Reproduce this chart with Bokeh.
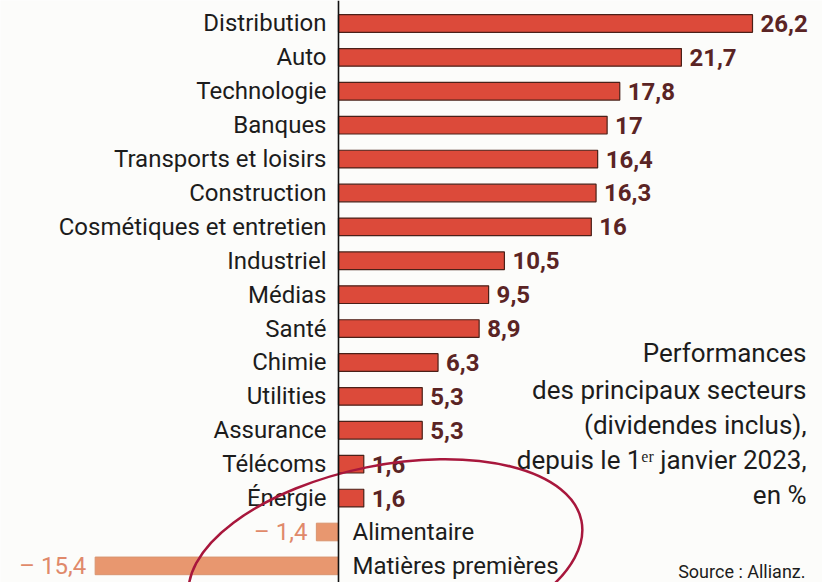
from bokeh.plotting import figure
from bokeh.models import ColumnDataSource, Range1d, Label, Span
from bokeh.core.properties import value
from bokeh.embed import file_html
from bokeh.resources import INLINE

categories = ["Distribution", "Auto", "Technologie", "Banques", "Transports et loisirs",
              "Construction", "Cosmétiques et entretien", "Industriel", "Médias", "Santé",
              "Chimie", "Utilities", "Assurance", "Télécoms", "Énergie",
              "Alimentaire", "Matières premières"]
values = [26.2, 21.7, 17.8, 17, 16.4, 16.3, 16, 10.5, 9.5, 8.9, 6.3, 5.3, 5.3, 1.6, 1.6, -1.4, -15.4]
value_labels = ["26,2", "21,7", "17,8", "17", "16,4", "16,3", "16", "10,5", "9,5", "8,9",
                "6,3", "5,3", "5,3", "1,6", "1,6", "– 1,4", "– 15,4"]
title_lines = ["Performances", "des principaux secteurs", "(dividendes inclus),",
               "depuis le 1ᵉʳ janvier 2023,", "en %"]
source_text = "Source : Allianz."

FONT = value("Roboto")
POS_BAR = "#dc4a3a"
NEG_BAR = "#e8976f"
POS_VAL = "#5a2424"
NEG_VAL = "#e0896a"
BG = "#fcfcfa"

rows = list(range(len(categories)))
pos_idx = [i for i, v in enumerate(values) if v >= 0]
neg_idx = [i for i, v in enumerate(values) if v < 0]

def sub(idx):
    return ColumnDataSource(dict(
        y=[rows[i] for i in idx],
        v=[values[i] for i in idx],
        cat=[categories[i] for i in idx],
        lab=[value_labels[i] for i in idx],
        zero=[0 for _ in idx],
    ))

pos = sub(pos_idx)
neg = sub(neg_idx)

p = figure(width=822, height=582, x_range=Range1d(-21.39, 30.63),
           y_range=Range1d(16.49, -0.678), output_backend="svg",
           toolbar_location=None, min_border=0,
           x_axis_location=None, y_axis_location=None)
p.grid.visible = False
p.outline_line_color = None
p.background_fill_color = BG
p.border_fill_color = BG

# bars
p.hbar(y="y", left="zero", right="v", height=0.52, source=pos,
       fill_color=POS_BAR, line_color="#4a2018", line_width=1.2)
p.hbar(y="y", left="v", right="zero", height=0.52, source=neg,
       fill_color=NEG_BAR, line_color="#d9946f", line_width=1)

# zero line
p.add_layout(Span(location=0, dimension="height", line_color="#111111", line_width=1.6))

# category labels
p.text(x="zero", y="y", text="cat", source=pos, x_offset=-12,
       text_align="right", text_baseline="middle", text_font=FONT,
       text_font_size="24px", text_color="#1c1c1c")
p.text(x="zero", y="y", text="cat", source=neg, x_offset=14,
       text_align="left", text_baseline="middle", text_font=FONT,
       text_font_size="24px", text_color="#1c1c1c")

# value labels
p.text(x="v", y="y", text="lab", source=pos, x_offset=8,
       text_align="left", text_baseline="middle", text_font=FONT,
       text_font_size="24px", text_font_style="bold", text_color=POS_VAL)
p.text(x="v", y="y", text="lab", source=neg, x_offset=-9,
       text_align="right", text_baseline="middle", text_font=FONT,
       text_font_size="24px", text_color=NEG_VAL)

# hand-drawn circle around the negative sectors
p.ellipse(x=[2.97], y=[15.84], width=[400], height=[190], angle=[0.2],
          width_units="screen", height_units="screen",
          fill_color=None, line_color="#a8173c", line_width=2.5)

# title block
line_ys = [230, 193, 158, 123, 88]
for t, yy in zip(title_lines, line_ys):
    p.add_layout(Label(x=806, y=yy, x_units="screen", y_units="screen", text=t,
                       text_align="right", text_baseline="middle",
                       text_font="Roboto", text_font_size="26px", text_color="#1c1c1c"))

p.add_layout(Label(x=805, y=11, x_units="screen", y_units="screen", text=source_text,
                   text_align="right", text_baseline="middle",
                   text_font="Roboto", text_font_size="18px", text_color="#1c1c1c"))

open("out.html", "w").write(file_html(p, INLINE))
